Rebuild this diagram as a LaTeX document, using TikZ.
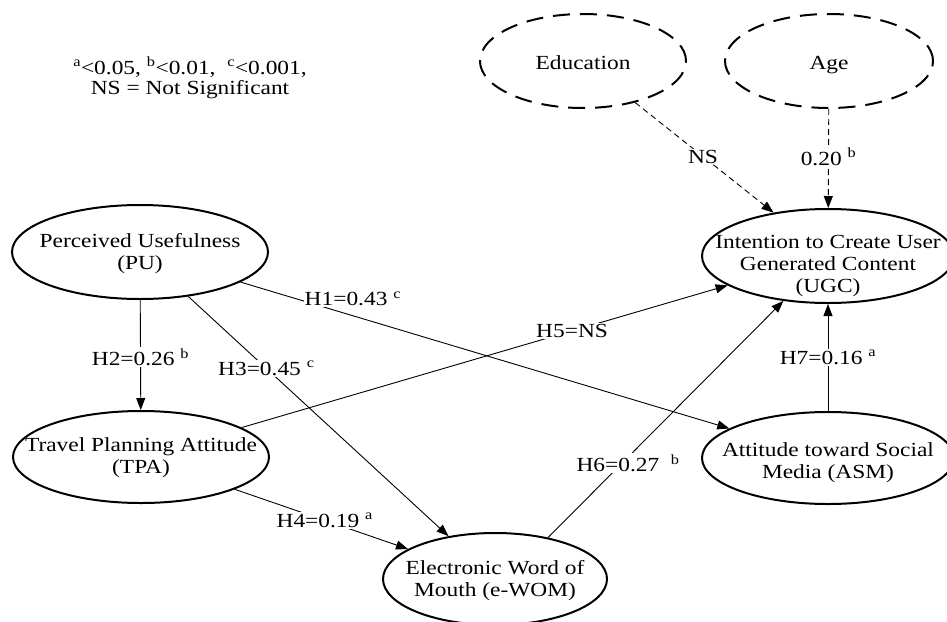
\documentclass[tikz,border=0pt]{standalone}
\usepackage{fontspec}
\setmainfont{Liberation Serif}[FakeStretch=1.17]
\usepackage{tikz}
\usetikzlibrary{arrows.meta, shapes.geometric}
\tikzstyle{arrow} = [line width=0.9pt,-{Triangle[length=12pt,width=9pt]}]
\tikzstyle{dasharrow} = [arrow, dash pattern=on 6pt off 4pt]
\tikzstyle{latent} = [ellipse, draw, line width=2pt, inner sep=0pt]
\tikzstyle{control} = [latent, dash pattern=on 17pt off 10pt]
\tikzstyle{coef} = [fill=white, inner sep=1pt]
% text that does not change the ellipse size
\newcommand{\inside}[2][-5pt]{\raisebox{#1}[0pt][0pt]{\makebox[0pt]{\begin{tabular}{@{}c@{}}#2\end{tabular}}}}

\begin{document}
\begin{tikzpicture}[x=1pt, y=-1pt, font=\fontsize{20}{22}\selectfont]
\useasboundingbox (0,0) rectangle (947,621);
\node [align=center, font=\fontsize{20}{20}\selectfont] (note) at (190,78) {\textsuperscript{a}<0.05, \textsuperscript{b}<0.01,\ \ \textsuperscript{c}<0.001,\\NS = Not Significant};
\node [control, minimum width=206pt, minimum height=94pt] (edu) at (583,61) {\inside[-9pt]{Education}};
\node [control, minimum width=208pt, minimum height=94pt] (age) at (829,61) {\inside[-9pt]{Age}};
\node [latent, minimum width=256pt, minimum height=94pt] (pu) at (140,252) {\inside[-7pt]{Perceived Usefulness\\(PU)}};
\node [latent, minimum width=256pt, minimum height=92pt] (tpa) at (141,457) {\inside[-6pt]{Travel Planning Attitude\\(TPA)}};
\node [latent, minimum width=252pt, minimum height=94pt] (ugc) at (828,256) {\inside[-15pt]{Intention to Create User\\Generated Content\\(UGC)}};
\node [latent, minimum width=252pt, minimum height=92pt] (asm) at (828,458) {\inside[-10pt]{Attitude toward Social\\Media (ASM)}};
\node [latent, minimum width=224pt, minimum height=92pt] (ewom) at (495,579) {\inside[-7pt]{Electronic Word of\\Mouth (e-WOM)}};
\draw [dasharrow] (edu) to node [coef, pos=0.49] {NS} (ugc);
\draw [dasharrow] (age) to node [coef, pos=0.48] {0.20 \textsuperscript{b}} (ugc);
\draw [arrow] (pu) to node [coef, pos=0.52] {H2=0.26 \textsuperscript{b}} (tpa);
\draw [arrow] (pu) to node [coef, pos=0.23, yshift=17pt] {H1=0.43 \textsuperscript{c}} (asm);
\draw [arrow] (pu) to node [coef, pos=0.3] {H3=0.45 \textsuperscript{c}} (ewom);
\draw [arrow] (tpa) to node [coef, pos=0.68] {H5=NS} (ugc);
\draw [arrow] (tpa) to node [coef, pos=0.52] {H4=0.19 \textsuperscript{a}} (ewom);
\draw [arrow] (ewom.38) to node [coef, pos=0.34, yshift=-6pt] {H6=0.27\ \ \textsuperscript{b}} (ugc);
\draw [arrow] (asm) to node [coef, pos=0.5] {H7=0.16 \textsuperscript{a}} (ugc);
\end{tikzpicture}
\end{document}
